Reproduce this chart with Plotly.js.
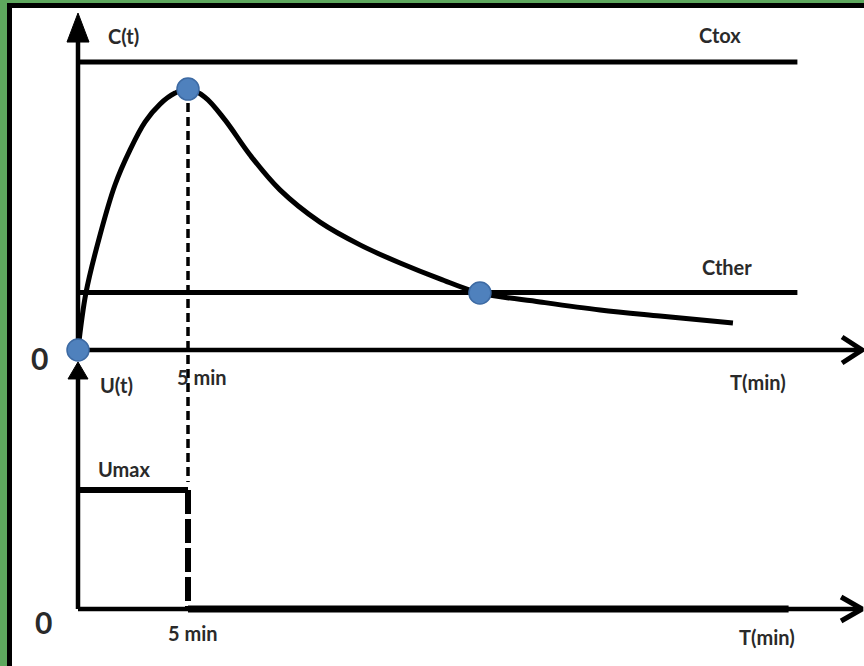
<!DOCTYPE html>
<html>
<head>
<meta charset="utf-8">
<script src="https://cdn.plot.ly/plotly-3.0.1.min.js"></script>
<style>html,body{margin:0;padding:0;background:#fff;}#chart{width:864px;height:666px;}</style>
</head>
<body>
<div id="chart"></div>
<script>
// ---- data (time in min, concentration in arbitrary units, U relative to Umax) ----
const tCurve = [0, 0.36, 1.0, 1.68, 2.36, 3.05, 3.73, 4.41, 5.0, 5.77, 6.68, 7.82, 9.18, 11.0, 12.82, 14.64, 16.45, 18.27, 21.0, 23.73, 26.45, 29.77];
const cCurve = [0, 1.98, 3.99, 5.73, 6.94, 7.92, 8.54, 8.92, 9.06, 8.78, 7.99, 6.77, 5.56, 4.44, 3.65, 3.02, 2.47, 1.98, 1.67, 1.39, 1.18, 0.94];
const cTox = 10;
const cTher = 2;
const tLevelEnd = 32.7;          // end of Ctox / Cther reference lines
const tPeak = 5, cPeak = 9.06;   // peak point
const tCross = 18.27, cCross = 1.98; // crossing with Cther
const tInfusion = 5;             // infusion duration (min)
const uMax = 1;
const tPulse = [0, tInfusion];
const uPulse = [uMax, uMax];
const tOffEnd = 32.3;            // end of the U=0 segment after infusion
const tAxisEnd = 35.64;          // arrow tips of the time axes
const cAxisTop = 11.70, uAxisTop = 2.076;
const labels = {c: 'C(t)', u: 'U(t)', tox: 'Ctox', ther: 'Cther', umax: 'Umax', t: 'T(min)', five: '5 min', zero: '0'};

// pixel scale (used only for arrowhead geometry)
const PX_T = 22, PX_C = 28.8, PX_U = 119;

const K = '#000';
const traces = [];
function line(x, y, w, opts) {
  traces.push(Object.assign({type: 'scatter', mode: 'lines', x: x, y: y,
    line: {color: K, width: w}, hoverinfo: 'skip'}, opts || {}));
}

// C(t) axes
line([0, 0], [0, cAxisTop - 28 / PX_C], 4.5);
line([0, tAxisEnd], [0, 0], 4.5);
// filled arrowhead of C axis
line([-11 / PX_T, 0, 11 / PX_T, -11 / PX_T], [cAxisTop - 29 / PX_C, cAxisTop, cAxisTop - 29 / PX_C, cAxisTop - 29 / PX_C], 1, {fill: 'toself', fillcolor: K});
// chevron at T axis end
line([tAxisEnd - 20 / PX_T, tAxisEnd, tAxisEnd - 20 / PX_T], [13 / PX_C, 0, -13 / PX_C], 5);

// Ctox / Cther levels
line([0, tLevelEnd], [cTox, cTox], 5);
line([0, tLevelEnd], [cTher, cTher], 5);

// concentration curve
traces.push({type: 'scatter', mode: 'lines', x: tCurve, y: cCurve,
  line: {color: K, width: 5, shape: 'spline', smoothing: 1}, hoverinfo: 'skip'});

// dashed line from the peak downward (top part)
line([tPeak, tPeak], [cPeak, -4.58], 3.5, {line: {color: K, width: 3.5, dash: '9px,5px'}});

// U(t) axes (second y axis)
const Y2 = {yaxis: 'y2'};
line([0, 0], [0, uAxisTop - 16 / PX_U], 4.5, Y2);
line([-10 / PX_T, 0, 10 / PX_T, -10 / PX_T], [uAxisTop - 17 / PX_U, uAxisTop, uAxisTop - 17 / PX_U, uAxisTop - 17 / PX_U], 1, {yaxis: 'y2', fill: 'toself', fillcolor: K});
line([0, tAxisEnd], [0, 0], 4.5, Y2);
line([tAxisEnd - 21 / PX_T, tAxisEnd, tAxisEnd - 21 / PX_T], [12 / PX_U, 0, -12 / PX_U], 5, Y2);
// infusion pulse
line(tPulse, uPulse, 6, Y2);
line([tInfusion, tInfusion], [uMax, 0], 6, {yaxis: 'y2', line: {color: K, width: 6, dash: '24px,5px'}});
line([tInfusion, tOffEnd], [0, 0], 7, Y2);

// blue points
traces.push({type: 'scatter', mode: 'markers', x: [0, tPeak, tCross], y: [0, cPeak, cCross],
  marker: {size: 22, color: '#4f81bd', line: {color: '#3d6aa3', width: 1.5}}, hoverinfo: 'skip'});

const F = {family: 'Lato, "Open Sans", sans-serif', size: 20, color: '#2a2a2a', weight: 'bold'};
function ann(text, x, y, yref, size) {
  return {text: text, x: x, y: y, xref: 'x', yref: yref || 'y', showarrow: false,
    xanchor: 'center', yanchor: 'middle', font: Object.assign({}, F, size ? {size: size} : {})};
}
const annotations = [
  ann(labels.c, 2.05, 10.9),
  ann(labels.tox, 29.2, 10.94),
  ann(labels.ther, 29.5, 2.88),
  ann(labels.zero, -1.77, -0.28, 'y', 30),
  ann(labels.five, 5.64, -0.94),
  ann(labels.t, 30.9, -1.11),
  ann(labels.u, 1.77, 1.88, 'y2'),
  ann(labels.umax, 2.09, 1.18, 'y2'),
  ann(labels.zero, -1.55, -0.11, 'y2', 30),
  ann(labels.five, 5.23, -0.20, 'y2'),
  ann(labels.t, 31.3, -0.235, 'y2')
];

const layout = {
  width: 864, height: 666,
  margin: {l: 0, r: 0, t: 0, b: 0},
  paper_bgcolor: '#5ea85e',
  plot_bgcolor: 'rgba(0,0,0,0)',
  showlegend: false,
  hovermode: false,
  xaxis: {range: [-78 / PX_T, 786 / PX_T], visible: false, fixedrange: true},
  yaxis: {range: [-316 / PX_C, 350 / PX_C], visible: false, fixedrange: true},
  yaxis2: {range: [-57 / PX_U, 609 / PX_U], overlaying: 'y', visible: false, fixedrange: true},
  shapes: [
    {type: 'rect', xref: 'paper', yref: 'paper', x0: 7 / 864, x1: 1.05, y0: -0.05, y1: 1 - 3 / 666, fillcolor: '#000', line: {width: 0}, layer: 'below'},
    {type: 'rect', xref: 'paper', yref: 'paper', x0: 12 / 864, x1: 1.05, y0: -0.05, y1: 1 - 8 / 666, fillcolor: '#fff', line: {width: 0}, layer: 'below'}
  ],
  annotations: annotations
};

Plotly.newPlot('chart', traces, layout, {staticPlot: true, displayModeBar: false});
</script>
</body>
</html>
